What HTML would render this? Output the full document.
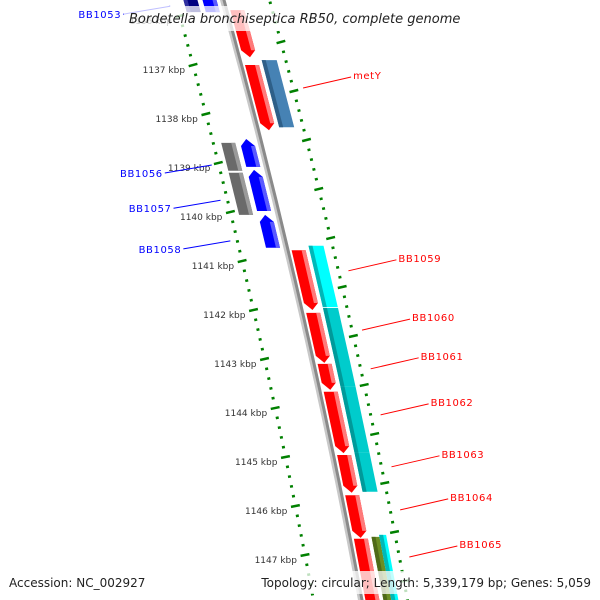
<!DOCTYPE html>
<html><head><meta charset="utf-8"><style>
html,body{margin:0;padding:0;background:#fff;width:600px;height:600px;overflow:hidden;position:relative;}
svg{display:block;}
</style></head><body>
<svg id="map" width="600" height="600" xmlns="http://www.w3.org/2000/svg" style="position:absolute;left:0;top:0"></svg>
<script>
// --- data (kbp positions) ---
const majorKbp = [1136,1137,1138,1139,1140,1141,1142,1143,1144,1145,1146,1147,1148];
const tickLabels = ["1136 kbp","1137 kbp","1138 kbp","1139 kbp","1140 kbp","1141 kbp","1142 kbp","1143 kbp","1144 kbp","1145 kbp","1146 kbp","1147 kbp","1148 kbp"];
const featStart = [1135.88,1137.0,1140.78,1142.06,1143.10,1143.67,1144.96,1145.78,1146.67, 1136.90,1140.69,1141.96,1143.02,1143.57,1144.90,1146.63,1146.59, 1135.3,1138.51,1139.14,1140.06, 1135.3,1138.59,1139.20];
const featEnd   = [1136.84,1138.33,1142.00,1143.08,1143.63,1144.92,1145.73,1146.65,1148.2, 1138.27,1141.94,1143.02,1143.57,1144.90,1145.71,1148.2,1148.2, 1135.92,1139.08,1139.98,1140.73, 1135.92,1139.16,1140.06];
const featLane  = ["r","r","r","r","r","r","r","r","r", "o","o","o","o","o","o","ol","oc", "li","li","li","li", "lo","lo","lo"];
const featColor = ["red","red","red","red","red","red","red","red","red", "steelblue","cyan","darkcyan","darkcyan","darkcyan","darkcyan","olive","cyan", "blue","blue","blue","blue", "navy","gray","gray"];
const featDir   = [1,1,1,1,1,1,1,1,1, 0,0,0,0,0,0,0,0, -1,-1,-1,-1, 0,0,0];
const rightLabels = ["metY","BB1059","BB1060","BB1061","BB1062","BB1063","BB1064","BB1065"];
const rightLabelKbp = [1137.47,1141.20,1142.41,1143.20,1144.14,1145.20,1146.08,1147.04];
const leftLabels = ["BB1053","BB1056","BB1057","BB1058"];
const leftLabelKbp = [1135.80,1139.04,1139.76,1140.59];

// --- axis functions ---
const Y0 = 65, PXK = 49, K0 = 1137;
function yOf(k){ return Y0 + (k-K0)*PXK; }
const A = 0.2747, B = -0.0000746;
function xb(y){ return 222.5 + A*y + B*y*y; }
function P(y,d){ return [xb(y)+d, y]; }
function nrm(y){ const s=A+2*B*y, n=1/Math.sqrt(1+s*s); return [n, -s*n]; }
const lanes = {r:[5,19], o:[23,38], ol:[23,31], oc:[31,38], li:[-20,-6], lo:[-39,-25]};
const palette = {red:["#ff0000","#ff7a7a"], steelblue:["#4682b4","#2e5f88"], cyan:["#00ffff","#00b8b8"], darkcyan:["#00cccc","#009a9a"], olive:["#6b8e23","#4f6a18"], blue:["#0000ff","#5a5aff"], navy:["#000080","#3030a0"], gray:["#6a6a6a","#9a9a9a"]};

const NS="http://www.w3.org/2000/svg", svg=document.getElementById('map');
function mk(tag, attrs, parent){ const e=document.createElementNS(NS,tag); for(const k in attrs) e.setAttribute(k,attrs[k]); (parent||svg).appendChild(e); return e; }
function pts(a){ return a.map(p=>p[0].toFixed(1)+","+p[1].toFixed(1)).join(" "); }
function pathAlong(d){ let s=""; for(let y=-10;y<=610;y+=10){ const p=P(y,d); s+=(s?"L":"M")+p[0].toFixed(1)+" "+p[1].toFixed(1); } return s; }

// backbone
let e = mk('path',{d:pathAlong(-1),fill:'none',stroke:'#c8c8c8','stroke-width':3});


e = mk('path',{d:pathAlong(1.5),fill:'none',stroke:'#8a8a8a','stroke-width':3});



// ticks
function tick(y,d,len,w,name){
  const c=P(y,d), n=nrm(y);
  const t=mk('line',{x1:c[0]-n[0]*len/2,y1:c[1]-n[1]*len/2,x2:c[0]+n[0]*len/2,y2:c[1]+n[1]*len/2,stroke:'#008000','stroke-width':w});
  
  
}
for(let i=0;i<majorKbp.length;i++){
  for(let m=0;m<5;m++){
    const k=majorKbp[i]+m*0.2;
    tick(yOf(k),-47,m===0?9:3,2.5,m===0?'left-major-tick':'left-minor-tick');
    tick(yOf(k)-23,47,m===0?9:3,2.5,m===0?'right-major-tick':'right-minor-tick');
  }
  const y=yOf(majorKbp[i]); const p=P(y,-55);
  const t=mk('text',{x:p[0],y:p[1]+8,'text-anchor':'end','font-family':'"DejaVu Sans","Liberation Sans",sans-serif','font-size':9,fill:'#333'});
  t.textContent=tickLabels[i];
  
  
}

// features
for(let i=0;i<featStart.length;i++){
  const y0=yOf(featStart[i]), y1=yOf(featEnd[i]);
  const [d0,d1]=lanes[featLane[i]]; const dm=(d0+d1)/2, h=7, dir=featDir[i];
  const col=palette[featColor[i]];
  let poly, strip;
  const sw = (featColor[i]==='red'||featColor[i]==='blue'||featColor[i]==='gray') ? [d1-4,d1] : [d0,d0+4];
  if(dir===1){
    poly=[P(y0,d0),P(y0,d1),P(y1-h,d1),P(y1,dm),P(y1-h,d0)];
    strip=[P(y0,sw[0]),P(y0,sw[1]),P(y1-h,sw[1]),P(y1-h,sw[0])];
  } else if(dir===-1){
    poly=[P(y0,dm),P(y0+h,d1),P(y1,d1),P(y1,d0),P(y0+h,d0)];
    strip=[P(y0+h,sw[0]),P(y0+h,sw[1]),P(y1,sw[1]),P(y1,sw[0])];
  } else {
    poly=[P(y0,d0),P(y0,d1),P(y1,d1),P(y1,d0)];
    strip=[P(y0,sw[0]),P(y0,sw[1]),P(y1,sw[1]),P(y1,sw[0])];
  }
  const g=mk('g',{});
  
  
  mk('polygon',{points:pts(poly),fill:col[0]},g);
  mk('polygon',{points:pts(strip),fill:col[1]},g);
}

// labels
const LF='"DejaVu Sans","Liberation Sans",sans-serif';
for(let i=0;i<rightLabels.length;i++){
  const y=yOf(rightLabelKbp[i]); const a=P(y,57), b=P(y,105);
  const l=mk('line',{x1:a[0],y1:a[1],x2:b[0],y2:a[1]-11,stroke:'#ff0000','stroke-width':1});
  
  
  const t=mk('text',{x:b[0]+2,y:a[1]-9,'font-family':LF,'font-size':10,fill:'#ff0000','letter-spacing':0.6});
  t.textContent=rightLabels[i];
  
  
}
for(let i=0;i<leftLabels.length;i++){
  const y=yOf(leftLabelKbp[i]); const a=P(y,-54), b=P(y,-101);
  const l=mk('line',{x1:a[0],y1:a[1],x2:b[0],y2:a[1]+8,stroke:'#0000ff','stroke-width':1});
  
  
  const t=mk('text',{x:b[0]-2,y:a[1]+12,'text-anchor':'end','font-family':LF,'font-size':10,fill:'#0000ff','letter-spacing':0.6});
  t.textContent=leftLabels[i];
  
  
}
</script>
<svg style="position:absolute;left:0;top:0" width="600" height="600">
  <rect x="124" y="6" width="352" height="25" fill="#fff" fill-opacity="0.75"/>
  <text x="129" y="23" font-family="'DejaVu Sans','Liberation Sans',sans-serif" font-style="italic" font-size="13" fill="#222">Bordetella bronchiseptica RB50, complete genome</text>
  <rect x="5" y="571" width="142" height="23" fill="#fff" fill-opacity="0.75"/>
  <text x="9" y="587" font-family="'DejaVu Sans','Liberation Sans',sans-serif" font-size="12" fill="#222">Accession: NC_002927</text>
  <rect x="257" y="571" width="337" height="23" fill="#fff" fill-opacity="0.75"/>
  <text x="591" y="587" text-anchor="end" font-family="'DejaVu Sans','Liberation Sans',sans-serif" font-size="12" fill="#222">Topology: circular; Length: 5,339,179 bp; Genes: 5,059</text>
</svg>
</body></html>
